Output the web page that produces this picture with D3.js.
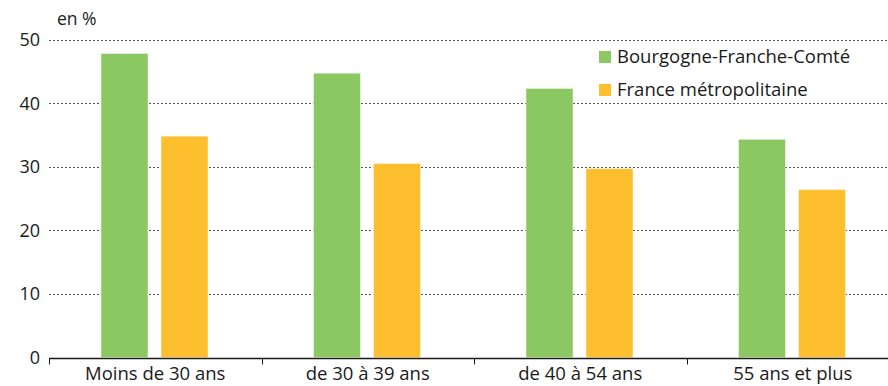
<!DOCTYPE html>
<html lang="fr">
<head>
    <meta charset="utf-8">
    <script type="text/javascript" src="https://d3js.org/d3.v7.min.js"></script>
    <style>
        html, body {
            margin: 0;
            padding: 0;
            background: white;
        }
        svg text {
            font-family: "Open Sans", "Noto Sans", sans-serif;
            fill: #1a1a1a;
        }
    </style>
</head>
<body>
    <div id="chart"></div>

    <script type="text/javascript">

        // Data
        const categories = ["Moins de 30 ans", "de 30 à 39 ans", "de 40 à 54 ans", "55 ans et plus"];
        const seriesNames = ["Bourgogne-Franche-Comté", "France métropolitaine"];
        const bfcValues = [47.8, 44.7, 42.3, 34.3];
        const franceValues = [34.8, 30.5, 29.7, 26.4];
        const yTicks = [0, 10, 20, 30, 40, 50];
        const seriesColors = ["#8BC862", "#FDBF2D"];

        const width = 888, height = 386;
        const margin = {top: 39.5, right: -11, bottom: 28.5, left: 49};

        const svg = d3.select("#chart")
            .append("svg")
                .attr("width", width)
                .attr("height", height);

        // Scales
        const x0 = d3.scaleBand()
            .domain(categories)
            .range([margin.left, width - margin.right]);

        const x1 = d3.scaleBand()
            .domain(seriesNames)
            .range([52, 159])
            .paddingInner(0.217);

        const y = d3.scaleLinear()
            .domain([0, 50])
            .range([height - margin.bottom, margin.top]);

        // Dotted gridlines (no line at 0)
        svg.append("g")
            .selectAll("line")
            .data(yTicks.filter(d => d > 0))
            .join("line")
                .attr("x1", margin.left)
                .attr("x2", width)
                .attr("y1", d => Math.round(y(d)) + 0.5)
                .attr("y2", d => Math.round(y(d)) + 0.5)
                .attr("stroke", "#555")
                .attr("stroke-width", 1)
                .attr("stroke-dasharray", "2,2");

        // Y tick labels
        svg.append("g")
            .selectAll("text")
            .data(yTicks)
            .join("text")
                .attr("x", 40)
                .attr("y", d => y(d))
                .attr("dy", "0.36em")
                .attr("text-anchor", "end")
                .style("font-size", "18px")
                .text(d => d);

        // Unit label
        svg.append("text")
            .attr("x", 57)
            .attr("y", 25)
            .style("font-size", "17.5px")
            .text("en %");

        // Bars
        const rows = categories.map((c, i) => ({cat: c, values: [bfcValues[i], franceValues[i]]}));

        svg.append("g")
            .selectAll("g")
            .data(rows)
            .join("g")
                .attr("transform", d => `translate(${x0(d.cat)},0)`)
            .selectAll("rect")
            .data(d => d.values.map((v, j) => ({name: seriesNames[j], value: v, color: seriesColors[j]})))
            .join("rect")
                .attr("x", d => x1(d.name))
                .attr("y", d => y(d.value))
                .attr("width", x1.bandwidth())
                .attr("height", d => y(0) - y(d.value))
                .attr("fill", d => d.color)
                .attr("stroke", "rgba(255,255,255,0.45)")
                .attr("stroke-width", 1);

        // X axis with ticks between categories
        const xAxis = svg.append("g");
        const y0 = Math.round(y(0)) + 0.5;
        xAxis.append("line")
            .attr("x1", margin.left)
            .attr("x2", width)
            .attr("y1", y0)
            .attr("y2", y0)
            .attr("stroke", "#1a1a1a")
            .attr("stroke-width", 1.3);

        xAxis.selectAll("line.tick")
            .data(categories)
            .join("line")
                .attr("class", "tick")
                .attr("x1", d => Math.round(x0(d)) + 0.5)
                .attr("x2", d => Math.round(x0(d)) + 0.5)
                .attr("y1", y0)
                .attr("y2", y0 + 6)
                .attr("stroke", "#1a1a1a");

        xAxis.selectAll("text")
            .data(categories)
            .join("text")
                .attr("x", d => x0(d) + x0.bandwidth() / 2)
                .attr("y", 380)
                .attr("text-anchor", "middle")
                .style("font-size", "18.5px")
                .text(d => d);

        // Legend
        const legend = svg.append("g")
            .selectAll("g")
            .data(seriesNames)
            .join("g")
                .attr("transform", (d, i) => `translate(599,${51 + i * 33})`);

        legend.append("rect")
            .attr("width", 12)
            .attr("height", 12)
            .attr("fill", (d, i) => seriesColors[i]);

        legend.append("text")
            .attr("x", 18)
            .attr("y", 12)
            .style("font-size", "18.5px")
            .text(d => d);

    </script>
</body>
</html>
